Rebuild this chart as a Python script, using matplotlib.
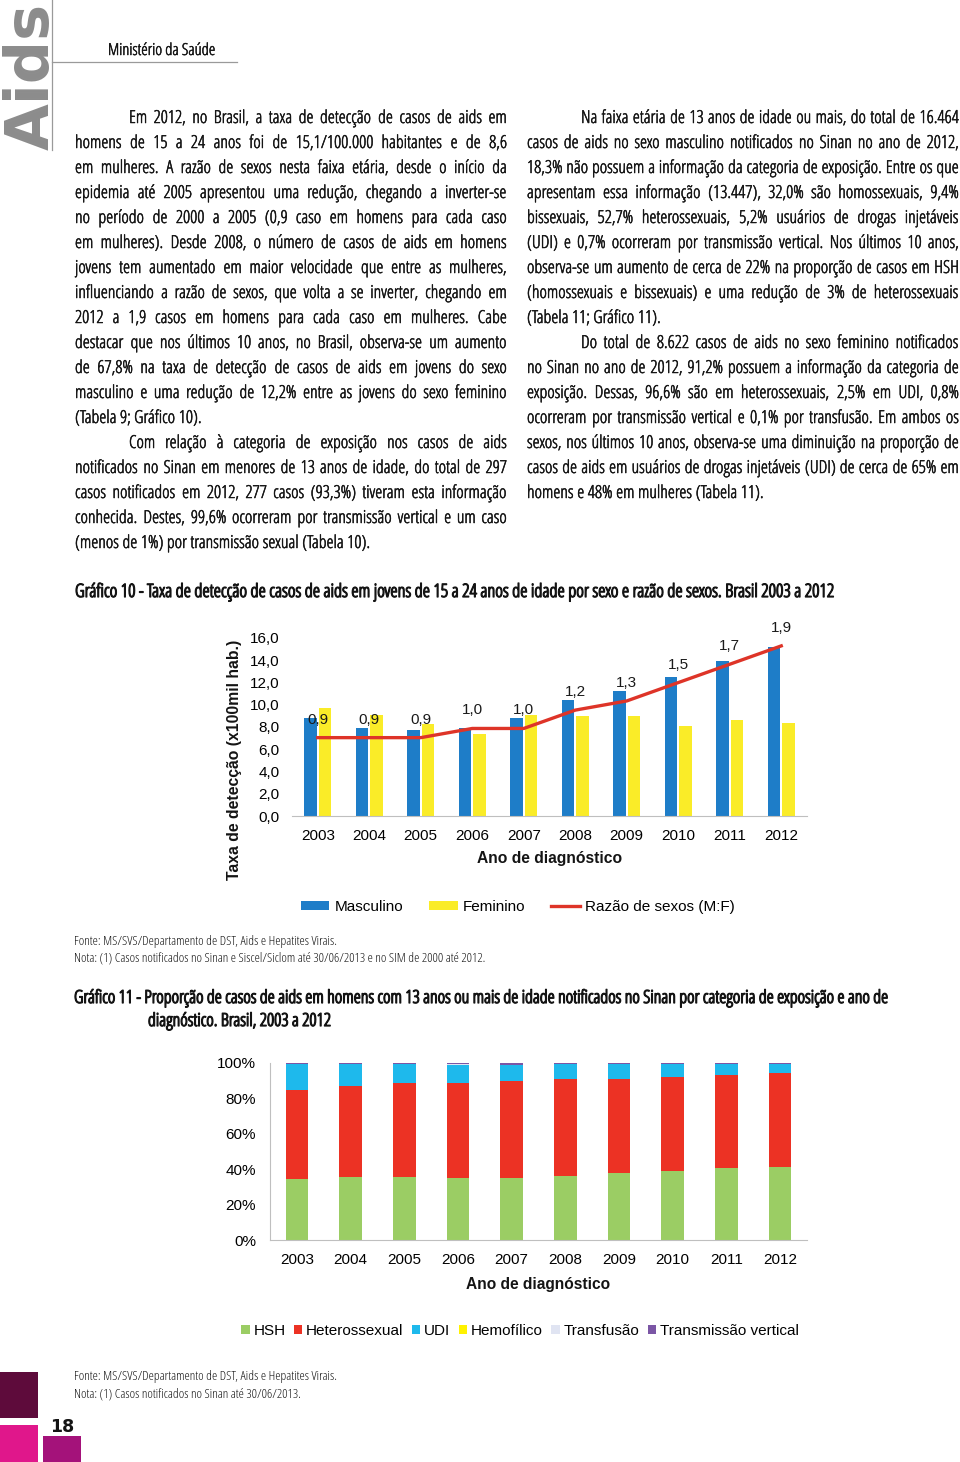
import numpy as np
import matplotlib
matplotlib.use('Agg')
import matplotlib.pyplot as plt
import matplotlib.patheffects as pe
from matplotlib import font_manager
from matplotlib.font_manager import FontProperties
from matplotlib.patches import Patch, Rectangle
from matplotlib.lines import Line2D

W, H = 960, 1462

# Gráfico 10 - taxa de detecção (x100mil hab.) e razão de sexos
anos = ['2003', '2004', '2005', '2006', '2007', '2008', '2009', '2010', '2011', '2012']
masculino = [8.8, 7.9, 7.7, 7.9, 8.8, 10.4, 11.2, 12.5, 13.9, 15.2]
feminino = [9.7, 9.1, 8.3, 7.4, 9.1, 9.0, 9.0, 8.1, 8.6, 8.4]
razao = [0.9, 0.9, 0.9, 1.0, 1.0, 1.2, 1.3, 1.5, 1.7, 1.9]
razao_rotulos = ['0,9', '0,9', '0,9', '1,0', '1,0', '1,2', '1,3', '1,5', '1,7', '1,9']
ticks_g10 = [0, 2, 4, 6, 8, 10, 12, 14, 16]
ticks_g10_rot = ['0,0', '2,0', '4,0', '6,0', '8,0', '10,0', '12,0', '14,0', '16,0']

# Gráfico 11 - proporção (%) por categoria de exposição
categorias = ['HSH', 'Heterossexual', 'UDI', 'Hemofílico', 'Transfusão', 'Transmissão vertical']
hsh = [34.5, 35.6, 35.6, 35.3, 35.3, 36.2, 38.1, 38.8, 40.7, 41.4]
hetero = [50.0, 51.3, 53.1, 53.4, 54.4, 55.0, 53.1, 53.3, 52.4, 52.7]
udi = [14.8, 12.4, 10.6, 9.9, 9.4, 8.0, 8.0, 7.1, 6.1, 5.2]
hemofilico = [0.0, 0.0, 0.0, 0.4, 0.0, 0.0, 0.0, 0.0, 0.0, 0.0]
transfusao = [0.0, 0.0, 0.0, 0.3, 0.0, 0.0, 0.0, 0.0, 0.0, 0.0]
vertical = [0.7, 0.7, 0.7, 0.7, 0.9, 0.8, 0.8, 0.8, 0.8, 0.7]
ticks_g11 = [0, 20, 40, 60, 80, 100]
ticks_g11_rot = ['0%', '20%', '40%', '60%', '80%', '100%']

col_esq = [
    ('Em 2012, no Brasil, a taxa de detecção de casos de aids em', True, True),
    ('homens de 15 a 24 anos foi de 15,1/100.000 habitantes e de 8,6', False, True),
    ('em mulheres. A razão de sexos nesta faixa etária, desde o início da', False, True),
    ('epidemia até 2005 apresentou uma redução, chegando a inverter-se', False, True),
    ('no período de 2000 a 2005 (0,9 caso em homens para cada caso', False, True),
    ('em mulheres). Desde 2008, o número de casos de aids em homens', False, True),
    ('jovens tem aumentado em maior velocidade que entre as mulheres,', False, True),
    ('influenciando a razão de sexos, que volta a se inverter, chegando em', False, True),
    ('2012 a 1,9 casos em homens para cada caso em mulheres. Cabe', False, True),
    ('destacar que nos últimos 10 anos, no Brasil, observa-se um aumento', False, True),
    ('de 67,8% na taxa de detecção de casos de aids em jovens do sexo', False, True),
    ('masculino e uma redução de 12,2% entre as jovens do sexo feminino', False, True),
    ('(Tabela 9; Gráfico 10).', False, False),
    ('Com relação à categoria de exposição nos casos de aids', True, True),
    ('notificados no Sinan em menores de 13 anos de idade, do total de 297', False, True),
    ('casos notificados em 2012, 277 casos (93,3%) tiveram esta informação', False, True),
    ('conhecida. Destes, 99,6% ocorreram por transmissão vertical e um caso', False, True),
    ('(menos de 1%) por transmissão sexual (Tabela 10).', False, False),
]
col_dir = [
    ('Na faixa etária de 13 anos de idade ou mais, do total de 16.464', True, True),
    ('casos de aids no sexo masculino notificados no Sinan no ano de 2012,', False, True),
    ('18,3% não possuem a informação da categoria de exposição. Entre os que', False, True),
    ('apresentam essa informação (13.447), 32,0% são homossexuais, 9,4%', False, True),
    ('bissexuais, 52,7% heterossexuais, 5,2% usuários de drogas injetáveis', False, True),
    ('(UDI) e 0,7% ocorreram por transmissão vertical. Nos últimos 10 anos,', False, True),
    ('observa-se um aumento de cerca de 22% na proporção de casos em HSH', False, True),
    ('(homossexuais e bissexuais) e uma redução de 3% de heterossexuais', False, True),
    ('(Tabela 11; Gráfico 11).', False, False),
    ('Do total de 8.622 casos de aids no sexo feminino notificados', True, True),
    ('no Sinan no ano de 2012, 91,2% possuem a informação da categoria de', False, True),
    ('exposição. Dessas, 96,6% são em heterossexuais, 2,5% em UDI, 0,8%', False, True),
    ('ocorreram por transmissão vertical e 0,1% por transfusão. Em ambos os', False, True),
    ('sexos, nos últimos 10 anos, observa-se uma diminuição na proporção de', False, True),
    ('casos de aids em usuários de drogas injetáveis (UDI) de cerca de 65% em', False, True),
    ('homens e 48% em mulheres (Tabela 11).', False, False),
]

azul = '#1E7DC8'
amarelo = '#FAEC28'
vermelho = '#DE3428'
cores_g11 = ['#9BCD64', '#EC3224', '#1EB9EC', '#FFF200', '#E0E4F2', '#7B56A5']
texto_cor = '#141414'

fig = plt.figure(figsize=(W / 100, H / 100), dpi=100)
pag = fig.add_axes([0, 0, 1, 1])
pag.set_xlim(0, W)
pag.set_ylim(H, 0)
pag.axis('off')
renderer = fig.canvas.get_renderer()


def tam(fp, size):
    f = fp.copy()
    f.set_size(size)
    return f


def largura(s, fp):
    w, h, d = renderer.get_text_width_height_descent(s, fp, ismath=False)
    return w


def altura(s, fp):
    w, h, d = renderer.get_text_width_height_descent(s, fp, ismath=False)
    return h - d


def ajustar(s, fp, alvo):
    return 10 * alvo / largura(s, tam(fp, 10))


def espaco(fp):
    return largura('a a', fp) - 2 * largura('a', fp)


def peso_num(p):
    if isinstance(p, (int, float)):
        return p
    return font_manager.weight_dict.get(p, 400)


# o original usa uma fonte condensada: escolhe a mais estreita entre fontes conhecidas
permitidas = ['Liberation Sans Narrow', 'Roboto Condensed', 'Open Sans Condensed',
              'Noto Sans CJK SC', 'Roboto', 'Lato', 'Liberation Sans', 'Noto Sans',
              'Open Sans', 'Inter', 'DejaVu Sans']


def mais_estreita(pmin, pmax):
    amostra = 'homens de 15 a 24 anos foi de 15,1/100.000 habitantes'
    melhor = None
    for f in font_manager.fontManager.ttflist:
        if f.name not in permitidas or f.style != 'normal':
            continue
        if not (pmin <= peso_num(f.weight) <= pmax):
            continue
        try:
            fp = FontProperties(fname=f.fname, size=20)
            r = largura(amostra, fp) / altura('H', fp)
        except Exception:
            continue
        if melhor is None or r < melhor[0]:
            melhor = (r, f.fname)
    return FontProperties(fname=melhor[1]) if melhor else None


fonte_txt = mais_estreita(250, 500) or FontProperties(family='Liberation Sans')
arial = FontProperties(family=['Liberation Sans', 'DejaVu Sans'])
arial_neg = FontProperties(family=['Liberation Sans', 'DejaVu Sans'], weight='bold')

# traço fino para engrossar a fonte condensada (texto continua sendo texto)
traco_corpo = [pe.withStroke(linewidth=0.35, foreground=texto_cor)]
traco_titulo = [pe.withStroke(linewidth=0.9, foreground=texto_cor)]

# ---- corpo de texto justificado
colunas = [(col_esq, 75, 507), (col_dir, 527, 959)]
recuo = 54
f10 = tam(fonte_txt, 10)
esp10 = espaco(f10)
razoes = []
for linhas, x0, x1 in colunas:
    for txt, rec, just in linhas:
        pal = txt.split(' ')
        nat = sum(largura(p, f10) for p in pal) + esp10 * (len(pal) - 1)
        alvo = x1 - x0 - (recuo if rec else 0)
        razoes.append(nat / alvo)
size_corpo = min(10 / max(razoes) * 0.99, 14.5)
fc = tam(fonte_txt, size_corpo)
esp = espaco(fc)

for linhas, x0, x1 in colunas:
    for i, (txt, rec, just) in enumerate(linhas):
        y = 123 + 25 * i
        xi = x0 + (recuo if rec else 0)
        pal = txt.split(' ')
        ws = [largura(p, fc) for p in pal]
        gap = (x1 - xi - sum(ws)) / (len(pal) - 1) if (just and len(pal) > 1) else esp
        x = xi
        for p, w in zip(pal, ws):
            pag.text(x, y, p, fontproperties=fc, color=texto_cor, ha='left', va='baseline',
                     path_effects=traco_corpo)
            x += w + gap

# ---- cabeçalho
fa = FontProperties(family='DejaVu Sans', weight='bold')
pag.text(49, 150, 'Aids', rotation=90, rotation_mode='anchor', ha='left', va='baseline',
         fontproperties=tam(fa, ajustar('Aids', fa, 146)), color='#8C8C8C')
pag.plot([52, 52], [0, 150], color='#9A9A9A', lw=0.9)
pag.plot([52, 237], [62, 62], color='#9A9A9A', lw=0.9)
s = 'Ministério da Saúde'
pag.text(108, 55, s, fontproperties=tam(fonte_txt, ajustar(s, fonte_txt, 108)),
         color=texto_cor, ha='left', va='baseline', path_effects=traco_corpo)

# ---- títulos e notas
t10 = 'Gráfico 10 - Taxa de detecção de casos de aids em jovens de 15 a 24 anos de idade por sexo e razão de sexos. Brasil 2003 a 2012'
pag.text(75, 597, t10, fontproperties=tam(fonte_txt, ajustar(t10, fonte_txt, 762)),
         color=texto_cor, ha='left', va='baseline', path_effects=traco_titulo)
t11a = 'Gráfico 11 - Proporção de casos de aids em homens com 13 anos ou mais de idade notificados no Sinan por categoria de exposição e ano de'
t11b = 'diagnóstico. Brasil, 2003 a 2012'
f11 = tam(fonte_txt, ajustar(t11a, fonte_txt, 818))
pag.text(74, 1003, t11a, fontproperties=f11, color=texto_cor, ha='left', va='baseline',
         path_effects=traco_titulo)
pag.text(148, 1026, t11b, fontproperties=f11, color=texto_cor, ha='left', va='baseline',
         path_effects=traco_titulo)

fonte_nota = 'Fonte: MS/SVS/Departamento de DST, Aids e Hepatites Virais.'
nota10 = 'Nota: (1) Casos notificados no Sinan e Siscel/Siclom até 30/06/2013 e no SIM de 2000 até 2012.'
nota11 = 'Nota: (1) Casos notificados no Sinan até 30/06/2013.'
fn = tam(fonte_txt, min(ajustar(nota10, fonte_txt, 412), 9.5))
pag.text(74, 945, fonte_nota, fontproperties=fn, color=texto_cor, ha='left', va='baseline')
pag.text(74, 962, nota10, fontproperties=fn, color=texto_cor, ha='left', va='baseline')
pag.text(74, 1380, fonte_nota, fontproperties=fn, color=texto_cor, ha='left', va='baseline')
pag.text(74, 1397, nota11, fontproperties=fn, color=texto_cor, ha='left', va='baseline')

# ---- rodapé
pag.add_patch(Rectangle((0, 1372), 38, 46, color='#5E0B3B', lw=0))
pag.add_patch(Rectangle((0, 1425), 38, 40, color='#E0178B', lw=0))
pag.add_patch(Rectangle((43, 1436), 38, 30, color='#A4127A', lw=0))
pag.text(62, 1432, '18', fontsize=12.5, fontweight='bold', color=texto_cor,
         family='DejaVu Sans', ha='center', va='baseline')

# ---- Gráfico 10
x = np.arange(len(anos))
ax1 = fig.add_axes([292 / W, 1 - 816 / H, 515 / W, 178 / H])
ax1.bar(x - 0.14, masculino, 0.25, color=azul, zorder=2)
ax1.bar(x + 0.14, feminino, 0.25, color=amarelo, zorder=2)
ax1.set_xlim(-0.5, len(anos) - 0.5)
ax1.set_ylim(0, 16)
ax1.set_yticks(ticks_g10)
ax1.set_yticklabels(ticks_g10_rot, fontproperties=tam(arial, 11))
ax1.set_xticks(x)
ax1.set_xticklabels(anos, fontproperties=tam(arial, 11))
ax1.tick_params(axis='y', length=0, pad=9)
ax1.tick_params(axis='x', length=0, pad=9)
for lado in ['top', 'right', 'left']:
    ax1.spines[lado].set_visible(False)
ax1.spines['bottom'].set_color('#BFBFBF')
ax1.patch.set_alpha(0)

ax2 = ax1.twinx()
ax2.plot(x, razao, color=vermelho, lw=2.4, zorder=3)
ax2.set_ylim(0.046, 1.986)
ax2.axis('off')
for xi, r, rot in zip(x, razao, razao_rotulos):
    ax2.annotate(rot, (xi, r), xytext=(0, 13), textcoords='offset points', ha='center',
                 va='center', fontproperties=tam(arial, 11), color='#1A1A1A',
                 annotation_clip=False)

s = 'Ano de diagnóstico'
pag.text(550, 859, s, fontproperties=tam(arial_neg, ajustar(s, arial_neg, 145)),
         color=texto_cor, ha='center', va='center')
s = 'Taxa de detecção (x100mil hab.)'
pag.text(235, 760, s, fontproperties=tam(arial_neg, ajustar(s, arial_neg, 240)),
         color=texto_cor, ha='center', va='center', rotation=90)

alcas = [Patch(facecolor=azul), Patch(facecolor=amarelo), Line2D([0], [0], color=vermelho, lw=2.4)]
fig.legend(alcas, ['Masculino', 'Feminino', 'Razão de sexos (M:F)'], loc='center',
           bbox_to_anchor=(518 / W, 1 - 907 / H), ncol=3, frameon=False,
           prop=tam(arial, 11), handlelength=1.85, handleheight=0.5,
           handletextpad=0.35, columnspacing=1.7)

# ---- Gráfico 11
ax3 = fig.add_axes([270 / W, 1 - 1240 / H, 537 / W, 177 / H])
series = [hsh, hetero, udi, hemofilico, transfusao, vertical]
base = np.zeros(len(anos))
for serie, cor in zip(series, cores_g11):
    ax3.bar(x, serie, 0.42, bottom=base, color=cor, zorder=2)
    base += np.array(serie)
ax3.set_xlim(-0.5, len(anos) - 0.5)
ax3.set_ylim(0, 100)
ax3.set_yticks(ticks_g11)
ax3.set_yticklabels(ticks_g11_rot, fontproperties=tam(arial, 11))
ax3.set_xticks(x)
ax3.set_xticklabels(anos, fontproperties=tam(arial, 11))
ax3.tick_params(axis='y', length=0, pad=10)
ax3.tick_params(axis='x', length=0, pad=9)
for lado in ['top', 'right']:
    ax3.spines[lado].set_visible(False)
ax3.spines['bottom'].set_color('#BFBFBF')
ax3.spines['left'].set_color('#BFBFBF')
ax3.patch.set_alpha(0)

s = 'Ano de diagnóstico'
pag.text(538, 1284, s, fontproperties=tam(arial_neg, ajustar(s, arial_neg, 144)),
         color=texto_cor, ha='center', va='center')

alcas = [Patch(facecolor=c) for c in cores_g11]
fig.legend(alcas, categorias, loc='center', bbox_to_anchor=(520 / W, 1 - 1331 / H),
           ncol=6, frameon=False, prop=tam(arial, 11), handlelength=0.55,
           handleheight=0.55, handletextpad=0.25, columnspacing=0.55)

fig.savefig('out.png', dpi=100)
